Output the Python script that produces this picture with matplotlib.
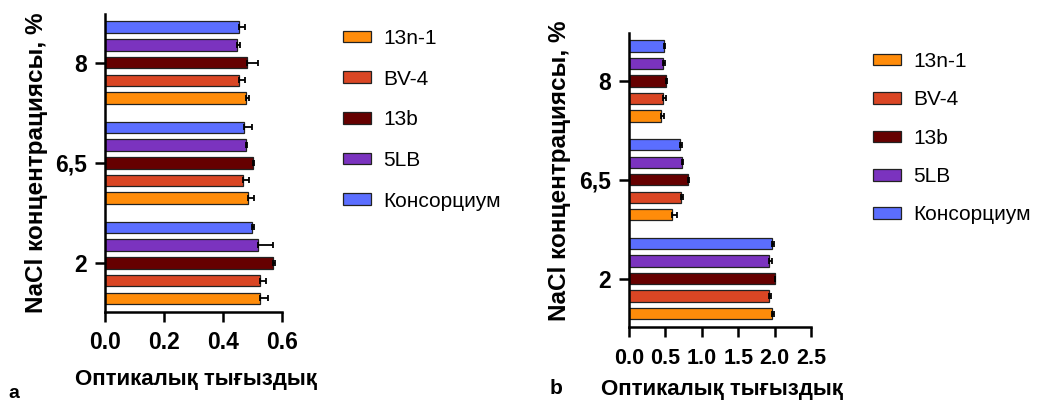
import matplotlib
matplotlib.use("Agg")
import matplotlib.pyplot as plt
from matplotlib import font_manager
import numpy as np

names = {f.name for f in font_manager.fontManager.ttflist}
FONT = "Liberation Sans Narrow" if "Liberation Sans Narrow" in names else "Liberation Sans"
plt.rcParams['font.family'] = [FONT, 'DejaVu Sans']

# ---- data ----
concentrations = ["2", "6,5", "8"]
strains = ["13n-1", "BV-4", "13b", "5LB", "Консорциум"]
colors = ["#FF8C0A", "#DA4624", "#660000", "#7B33BF", "#5B6EFF"]

# panel a: columns = concentrations (2, 6.5, 8)
a_13n1 = [0.525, 0.486, 0.477]
a_bv4 = [0.525, 0.467, 0.455]
a_13b = [0.571, 0.503, 0.482]
a_5lb = [0.518, 0.477, 0.446]
a_kons = [0.497, 0.472, 0.454]
a_err_13n1 = [0.026, 0.019, 0.012]
a_err_bv4 = [0.020, 0.022, 0.021]
a_err_13b = [0.006, 0.003, 0.037]
a_err_5lb = [0.050, 0.005, 0.011]
a_err_kons = [0.009, 0.025, 0.020]

# panel b
b_13n1 = [1.968, 0.589, 0.441]
b_bv4 = [1.926, 0.708, 0.473]
b_13b = [2.000, 0.805, 0.510]
b_5lb = [1.922, 0.722, 0.473]
b_kons = [1.968, 0.694, 0.487]
b_err_13n1 = [0.018, 0.064, 0.042]
b_err_bv4 = [0.028, 0.028, 0.033]
b_err_13b = [0.009, 0.013, 0.014]
b_err_5lb = [0.041, 0.018, 0.024]
b_err_kons = [0.022, 0.028, 0.013]

xticks_a = [0.0, 0.2, 0.4, 0.6]
xticks_b = [0.0, 0.5, 1.0, 1.5, 2.0, 2.5]
ylabel = "NaCl концентрациясы, %"
xlabel = "Оптикалық тығыздық"

W, H = 1041, 403
fig = plt.figure(figsize=(W / 100, H / 100), dpi=100)


def px_axes(left, top, right, bottom):
    return fig.add_axes([left / W, (H - bottom) / H, (right - left) / W, (bottom - top) / H])


def draw(ax, series, errs, xmax, xticks, tickfmt, tfs, xpad):
    slot = 0.177
    h = 0.115
    base = np.arange(len(concentrations))
    for i, (vals, ev) in enumerate(zip(series, errs)):
        y = base + (i - 2) * slot
        ax.barh(y, vals, height=h, color=colors[i], edgecolor="#222222",
                linewidth=0.9, label=strains[i], zorder=2)
        ax.errorbar(vals, y, xerr=[np.zeros(len(vals)), ev], fmt="none",
                    ecolor="black", elinewidth=1.3, capsize=2.4, capthick=1.3, zorder=3)
    ax.set_xlim(0, xmax)
    ax.set_ylim(-0.49, 2.485)
    ax.set_xticks(xticks)
    ax.set_xticklabels([tickfmt(t) for t in xticks], fontsize=tfs, fontweight="bold")
    ax.set_yticks(base)
    ax.set_yticklabels(concentrations, fontsize=16.5, fontweight="bold")
    for s in ["top", "right"]:
        ax.spines[s].set_visible(False)
    for s in ["left", "bottom"]:
        ax.spines[s].set_linewidth(1.8)
    ax.tick_params(axis="both", length=7, width=1.8, pad=6)
    ax.tick_params(axis="x", pad=xpad)
    ax.set_ylabel(ylabel, fontsize=17.5, fontweight="bold")


ax_a = px_axes(105, 14, 282, 312)
draw(ax_a, [a_13n1, a_bv4, a_13b, a_5lb, a_kons],
     [a_err_13n1, a_err_bv4, a_err_13b, a_err_5lb, a_err_kons], 0.6, xticks_a,
     lambda t: f"{t:.1f}", 16.5, 7)

ax_b = px_axes(629, 33, 811, 327)
draw(ax_b, [b_13n1, b_bv4, b_13b, b_5lb, b_kons],
     [b_err_13n1, b_err_bv4, b_err_13b, b_err_5lb, b_err_kons], 2.5, xticks_b,
     lambda t: f"{t:.1f}", 15.5, 8)

# y label positions (right edge of rotated label, in pixels)
ax_a.yaxis.set_label_coords((48 - 105) / 177, 0.5)
ax_b.yaxis.set_label_coords((571 - 629) / 182, 0.53)

fig.text(196 / W, 1 - 380 / H, xlabel, fontsize=16, fontweight="bold", ha="center", va="center")
fig.text(722 / W, 1 - 390 / H, xlabel, fontsize=16, fontweight="bold", ha="center", va="center")
fig.text(14 / W, 1 - 394 / H, "a", fontsize=14, fontweight="bold", ha="center", va="center")
fig.text(556 / W, 1 - 389 / H, "b", fontsize=15, fontweight="bold", ha="center", va="center")

# legends
leg_kw = dict(frameon=False, fontsize=15, handlelength=1.35, handleheight=0.48,
              handletextpad=0.6, borderaxespad=0, borderpad=0)
handles, labels = ax_a.get_legend_handles_labels()
fig.legend(handles, labels, loc="upper left", bbox_to_anchor=(343 / W, 1 - 29 / H),
           labelspacing=1.04, **leg_kw)
handles, labels = ax_b.get_legend_handles_labels()
fig.legend(handles, labels, loc="upper left", bbox_to_anchor=(873 / W, 1 - 52 / H),
           labelspacing=0.93, **leg_kw)

fig.savefig("out.png", dpi=100)
